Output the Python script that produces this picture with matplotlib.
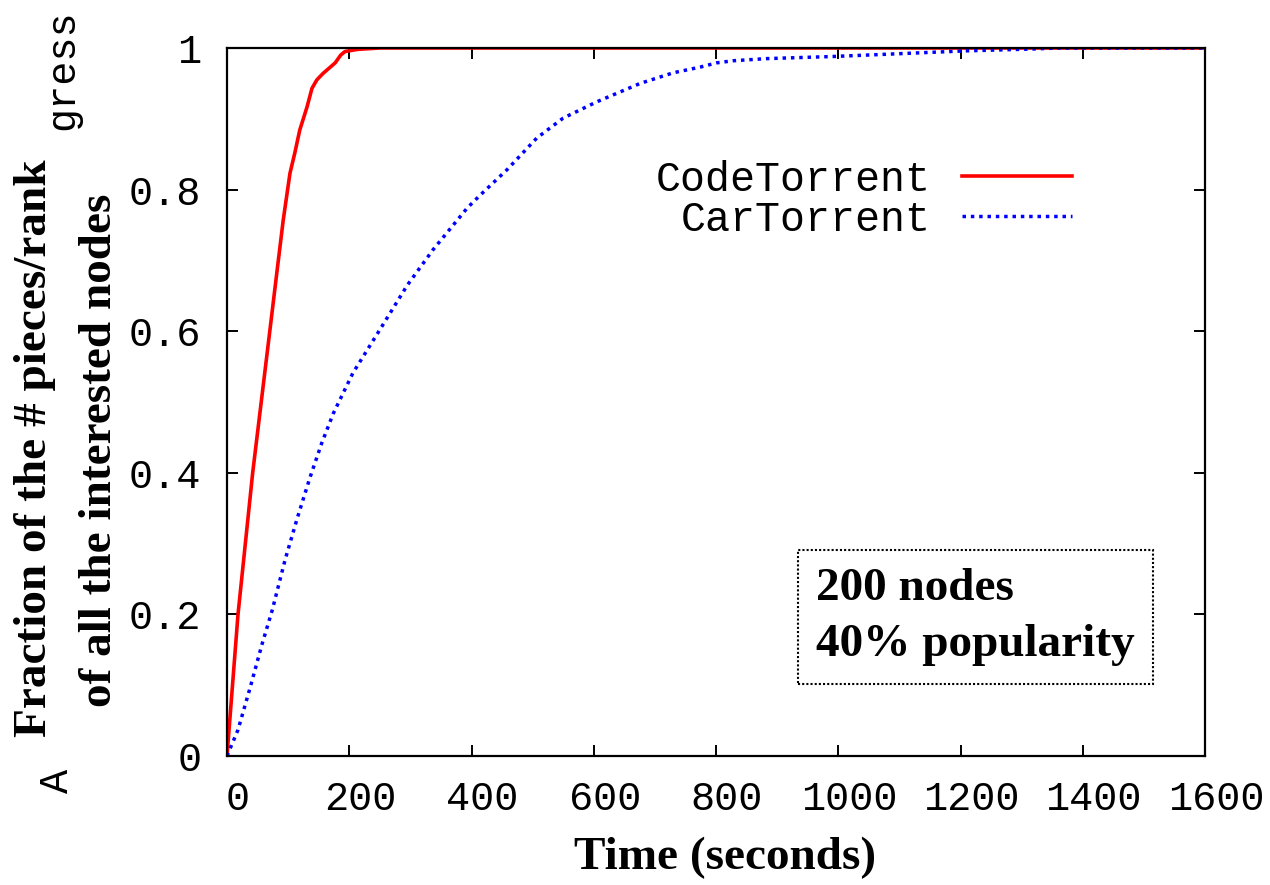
import matplotlib
matplotlib.use("Agg")
import matplotlib.pyplot as plt
import matplotlib.transforms as mtransforms

# CodeTorrent (red, solid)
code_t = [0, 18, 42, 70, 82, 92, 103, 111, 119, 131, 139, 147, 157, 177, 186,
          193, 213, 250, 1600]
code_y = [0, 0.20, 0.40, 0.60, 0.686, 0.757, 0.823, 0.852, 0.884, 0.917, 0.943,
          0.955, 0.964, 0.979, 0.990, 0.995, 0.998, 1.0, 1.0]

# CarTorrent (blue, dotted)
car_t = [0, 18, 38, 57, 74, 95, 115, 136, 155, 174, 206, 250, 295, 337, 393, 414,
         458, 507, 550, 605, 676, 730, 774, 801, 828, 883, 991, 1047, 1155, 1210,
         1319, 1360, 1600]
car_y = [0, 0.037, 0.097, 0.157, 0.206, 0.277, 0.336, 0.394, 0.442, 0.484, 0.541,
         0.602, 0.665, 0.715, 0.774, 0.792, 0.828, 0.873, 0.901, 0.924, 0.950,
         0.965, 0.973, 0.979, 0.982, 0.985, 0.988, 0.990, 0.994, 0.996, 0.9986,
         1.0, 1.0]

x_ticks = [0, 200, 400, 600, 800, 1000, 1200, 1400, 1600]
y_ticks = [0, 0.2, 0.4, 0.6, 0.8, 1.0]
y_tick_labels = ["0", "0.2", "0.4", "0.6", "0.8", "1"]

MONO = "Liberation Mono"
SERIF = "Liberation Serif"
W, H = 1270, 885

fig = plt.figure(figsize=(12.7, 8.85), dpi=100)
ax = fig.add_axes([227 / W, 1 - 756 / H, (1205 - 227) / W, (756 - 48) / H])

ax.plot(code_t, code_y, color="#ff0000", lw=2.6, label="CodeTorrent")
ax.plot(car_t, car_y, color="#0000ff", lw=2.5, ls=(0, (1, 1.4)),
        dash_capstyle="butt", label="CarTorrent")

ax.set_xlim(0, 1600)
ax.set_ylim(0, 1)
ax.set_xticks(x_ticks)
ax.set_yticks(y_ticks)
ax.set_yticklabels(y_tick_labels)
ax.tick_params(direction="in", length=8, width=1.4, top=True, right=True,
               labelsize=29)
ax.tick_params(axis="x", pad=17)
ax.tick_params(axis="y", pad=18.5)
for lab in ax.get_xticklabels() + ax.get_yticklabels():
    lab.set_fontfamily(MONO)
shift = mtransforms.ScaledTranslation(0.11, 0, fig.dpi_scale_trans)
for lab in ax.get_xticklabels():
    lab.set_transform(lab.get_transform() + shift)
for s in ax.spines.values():
    s.set_linewidth(1.6)

leg = ax.legend(loc="upper right", bbox_to_anchor=(1072 / W, 1 - 160 / H),
                bbox_transform=fig.transFigure, frameon=False, markerfirst=False,
                prop={"family": MONO, "size": 30}, handlelength=2.65,
                handletextpad=0.75, labelspacing=0.0, borderpad=0, borderaxespad=0)

# annotation box
fig.text(816 / W, 1 - 617 / H, "200 nodes\n40% popularity", family=SERIF,
         weight="bold", size=34, va="center", ha="left", linespacing=1.45,
         bbox=dict(boxstyle="square,pad=0.38", fc="white", ec="black",
                   lw=1.5, ls=(0, (1, 1))))

# axis labels
fig.text(725 / W, 1 - 858 / H, "Time (seconds)", family=SERIF, weight="bold",
         size=34, ha="center", va="center")
fig.text(35 / W, 1 - 448 / H, "Fraction of the # pieces/rank", family=SERIF,
         weight="bold", size=34, ha="center", va="center", rotation=90)
fig.text(100 / W, 1 - 450 / H, "of all the interested nodes", family=SERIF,
         weight="bold", size=34, ha="center", va="center", rotation=90)

# leftover fragments of an older label
fig.text(57 / W, 1 - 781 / H, "A", family=MONO, size=29, ha="center",
         va="center", rotation=90)
fig.text(62 / W, 1 - 70 / H, "gress", family=MONO, size=29, ha="center",
         va="center", rotation=90)

fig.savefig("out.png", dpi=100)
